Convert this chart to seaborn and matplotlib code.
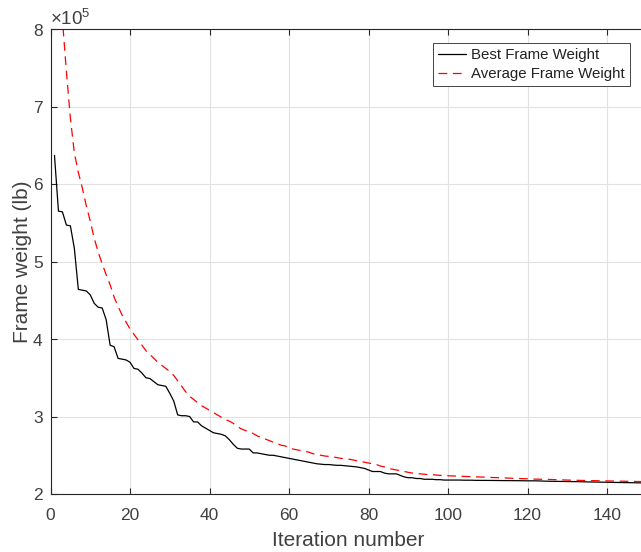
import numpy as np
import seaborn as sns
import matplotlib.pyplot as plt

# frame weight per iteration, in units of 1e5 lb
iterations = list(range(1, 151))
best_frame_weight = [
    6.37, 5.65, 5.64, 5.47, 5.46, 5.17, 4.64, 4.63, 4.62, 4.57,
    4.46, 4.41, 4.40, 4.25, 3.92, 3.90, 3.75, 3.74, 3.73, 3.70,
    3.62, 3.61, 3.56, 3.50, 3.49, 3.45, 3.41, 3.40, 3.39, 3.30,
    3.20, 3.02, 3.01, 3.01, 3.00, 2.93, 2.93, 2.88, 2.85, 2.82,
    2.79, 2.78, 2.77, 2.75, 2.70, 2.64, 2.59, 2.58, 2.58, 2.58,
    2.53, 2.53, 2.52, 2.51, 2.50, 2.50, 2.49, 2.48, 2.47, 2.46,
    2.45, 2.44, 2.43, 2.42, 2.41, 2.40, 2.39, 2.385, 2.38, 2.38,
    2.375, 2.37, 2.37, 2.365, 2.36, 2.355, 2.35, 2.34, 2.33, 2.31,
    2.29, 2.29, 2.29, 2.27, 2.26, 2.26, 2.26, 2.24, 2.22, 2.21,
    2.21, 2.20, 2.20, 2.19, 2.19, 2.19, 2.185, 2.185, 2.18, 2.18,
    2.18, 2.18, 2.18, 2.178, 2.178, 2.178, 2.176, 2.176, 2.175, 2.175,
    2.175, 2.174, 2.174, 2.173, 2.173, 2.172, 2.172, 2.171, 2.171, 2.170,
    2.170, 2.170, 2.168, 2.165, 2.165, 2.164, 2.163, 2.162, 2.162, 2.161,
    2.160, 2.160, 2.158, 2.157, 2.156, 2.155, 2.154, 2.153, 2.152, 2.151,
    2.150, 2.149, 2.148, 2.147, 2.146, 2.145, 2.145, 2.144, 2.143, 2.142,
]
average_frame_weight = [
    10.2, 9.05, 8.12, 7.45, 6.85, 6.40, 6.15, 5.95, 5.72, 5.52,
    5.30, 5.12, 4.97, 4.83, 4.70, 4.54, 4.42, 4.31, 4.22, 4.13,
    4.06, 3.99, 3.92, 3.85, 3.80, 3.75, 3.70, 3.66, 3.62, 3.58,
    3.53, 3.46, 3.39, 3.32, 3.26, 3.22, 3.18, 3.14, 3.11, 3.08,
    3.05, 3.02, 2.99, 2.96, 2.94, 2.91, 2.87, 2.84, 2.82, 2.80,
    2.78, 2.75, 2.73, 2.71, 2.69, 2.67, 2.65, 2.63, 2.62, 2.60,
    2.58, 2.57, 2.56, 2.55, 2.54, 2.52, 2.51, 2.50, 2.49, 2.485,
    2.48, 2.47, 2.46, 2.455, 2.45, 2.44, 2.43, 2.42, 2.41, 2.40,
    2.39, 2.38, 2.36, 2.35, 2.33, 2.32, 2.31, 2.30, 2.29, 2.28,
    2.27, 2.265, 2.26, 2.255, 2.25, 2.25, 2.245, 2.24, 2.24, 2.235,
    2.233, 2.231, 2.229, 2.227, 2.225, 2.223, 2.221, 2.22, 2.218, 2.216,
    2.214, 2.212, 2.21, 2.208, 2.205, 2.203, 2.20, 2.198, 2.196, 2.194,
    2.193, 2.192, 2.191, 2.19, 2.189, 2.187, 2.185, 2.183, 2.181, 2.18,
    2.178, 2.177, 2.175, 2.174, 2.173, 2.172, 2.171, 2.17, 2.169, 2.168,
    2.167, 2.166, 2.165, 2.164, 2.163, 2.162, 2.161, 2.16, 2.16, 2.16,
]

sns.set_theme(style="white")
axis_color = '#262626'
text_color = '#404040'
plt.rcParams['font.family'] = ['Liberation Sans', 'DejaVu Sans']
plt.rcParams['mathtext.fontset'] = 'custom'
plt.rcParams['mathtext.rm'] = 'Liberation Sans'
plt.rcParams.update({
    'xtick.direction': 'in', 'ytick.direction': 'in',
    'xtick.bottom': True, 'xtick.top': True,
    'ytick.left': True, 'ytick.right': True,
    'xtick.major.size': 4.5, 'ytick.major.size': 4.5,
    'xtick.major.width': 0.8, 'ytick.major.width': 0.8,
    'xtick.color': axis_color, 'ytick.color': axis_color,
    'xtick.labelcolor': text_color, 'ytick.labelcolor': text_color,
})

fig = plt.figure(figsize=(6.41, 5.52), dpi=100)
ax = fig.add_axes([50.5 / 641, 58 / 552, 596.25 / 641, 465 / 552])

x = np.array(iterations)
sns.lineplot(x=x, y=np.array(best_frame_weight) * 1e5, ax=ax, color='black',
             lw=0.9, label='Best Frame Weight')
sns.lineplot(x=x, y=np.array(average_frame_weight) * 1e5, ax=ax, color='#ff0000',
             lw=0.9, linestyle=(0, (7, 4.5)), label='Average Frame Weight')

ax.set_xlim(0, 150)
ax.set_ylim(2e5, 8e5)
ax.set_xticks(range(0, 151, 20))
ax.set_yticks(np.arange(2, 9) * 1e5)
ax.ticklabel_format(axis='y', style='sci', scilimits=(5, 5), useMathText=True)
ax.yaxis.get_offset_text().set_fontsize(13.5)
ax.yaxis.get_offset_text().set_color(text_color)

ax.grid(True, color='#e2e2e2', lw=0.8)
ax.set_axisbelow(True)
for s in ax.spines.values():
    s.set_color(axis_color)
    s.set_linewidth(0.8)
ax.tick_params(labelsize=12.5, pad=5)
ax.tick_params(axis='x', pad=10)

ax.set_xlabel('Iteration number', fontsize=15, color=text_color, labelpad=6)
ax.set_ylabel('Frame weight (lb)', fontsize=15, color=text_color, labelpad=0)

leg = ax.legend(loc='upper right', bbox_to_anchor=(0.972, 0.970), borderaxespad=0,
                fontsize=10.8, frameon=True, fancybox=False, framealpha=1,
                handlelength=1.85, handletextpad=0.35, borderpad=0.35,
                labelspacing=0.32)
leg.get_frame().set_edgecolor(axis_color)
leg.get_frame().set_linewidth(0.6)
for t in leg.get_texts():
    t.set_color('#222222')

fig.savefig('out.png', dpi=100)
